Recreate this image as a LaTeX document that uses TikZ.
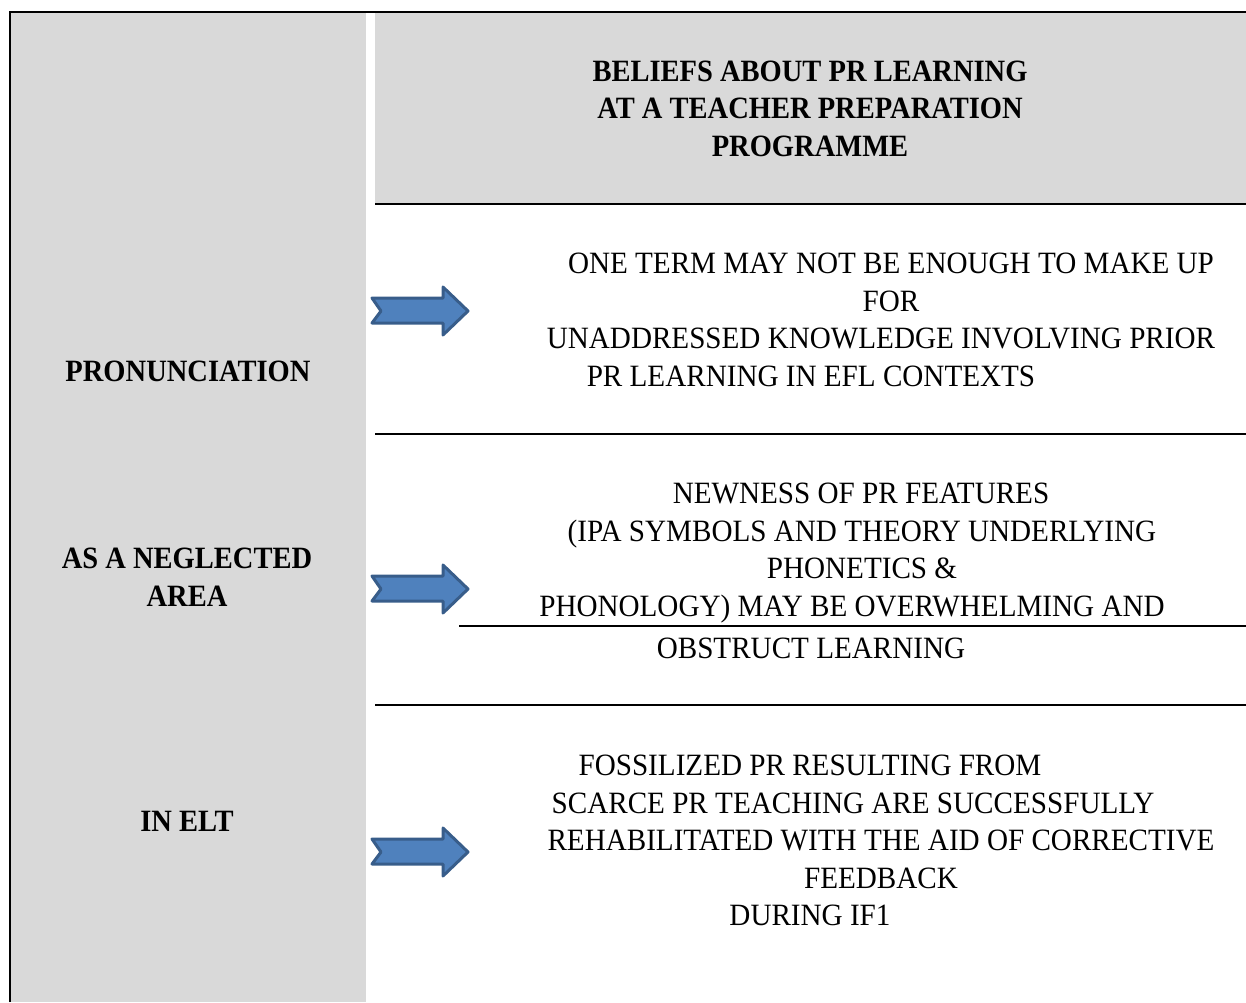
\documentclass[tikz,border=0pt]{standalone}
\usepackage{fontspec}
\setmainfont{Liberation Serif}[FakeStretch=0.94, BoldFeatures={FakeStretch=0.92}]
\usepackage{tikz}
\usetikzlibrary{positioning, calc}
\definecolor{grigio}{RGB}{217,217,217}
\definecolor{blufreccia}{RGB}{79,129,189}
\definecolor{bordofreccia}{RGB}{56,93,138}

\begin{document}
\begin{tikzpicture}[x=1pt, y=-1pt,
	riga/.style={anchor=base, inner sep=0pt, font=\fontsize{31}{37.5}\selectfont},
	titolo/.style={riga, align=center, font=\fontsize{31}{37.5}\selectfont\bfseries},
	filetto/.style={line width=2pt},
	freccia/.style={draw=bordofreccia, fill=blufreccia, line width=3pt, line join=round}]
	\useasboundingbox (0,0) rectangle (1246,1002);
	
	% Sfondi grigi
	\fill[grigio] (11,13) rectangle (366,1002);
	\fill[grigio] (375,13) rectangle (1246,203);
	
	% Bordo e filetti
	\draw[line width=2.5pt] (10,1002) -- (10,12) -- (1246,12);
	\draw[filetto] (375,204) -- (1246,204);
	\draw[filetto] (375,434) -- (1246,434);
	\draw[filetto] (459,626) -- (1246,626);
	\draw[filetto] (375,705) -- (1246,705);
	
	% Titolo (base = ultima riga)
	\node[titolo] (titolo) at (810,156) {BELIEFS ABOUT PR LEARNING\\AT A TEACHER PREPARATION\\PROGRAMME};
	
	% Colonna sinistra
	\node[titolo] (pron) at (188,381) {PRONUNCIATION};
	\node[titolo] (area) at (187,606) {AS A NEGLECTED\\AREA};
	\node[titolo] (elt) at (187,831) {IN ELT};
	
	% Frecce
	\foreach \yc in {311, 589, 852} {
		\draw[freccia] (372,\yc-13) -- (443,\yc-13) -- (443,\yc-24) -- (468,\yc)
			-- (443,\yc+24) -- (443,\yc+12) -- (372,\yc+12) -- (381,\yc) -- cycle;
	}
	
	% Primo blocco
	\node[riga] (uno1) at (891,273) {ONE TERM MAY NOT BE ENOUGH TO MAKE UP};
	\node[riga] (uno2) at (891,311) {FOR};
	\node[riga] (uno3) at (881,348) {UNADDRESSED KNOWLEDGE INVOLVING PRIOR};
	\node[riga] (uno4) at (811,386) {PR LEARNING IN EFL CONTEXTS};
	
	% Secondo blocco
	\node[riga] (due1) at (861,503) {NEWNESS OF PR FEATURES};
	\node[riga] (due2) at (862,541) {(IPA SYMBOLS AND THEORY UNDERLYING};
	\node[riga] (due3) at (862,578) {PHONETICS \&};
	\node[riga] (due4) at (852,616) {PHONOLOGY) MAY BE OVERWHELMING AND};
	\node[riga] (due5) at (811,658) {OBSTRUCT LEARNING};
	
	% Terzo blocco
	\node[riga] (tre1) at (810,775) {FOSSILIZED PR RESULTING FROM};
	\node[riga] (tre2) at (853,813) {SCARCE PR TEACHING ARE SUCCESSFULLY};
	\node[riga] (tre3) at (881,850) {REHABILITATED WITH THE AID OF CORRECTIVE};
	\node[riga] (tre4) at (881,888) {FEEDBACK};
	\node[riga] (tre5) at (810,925) {DURING IF1};
\end{tikzpicture}
\end{document}
